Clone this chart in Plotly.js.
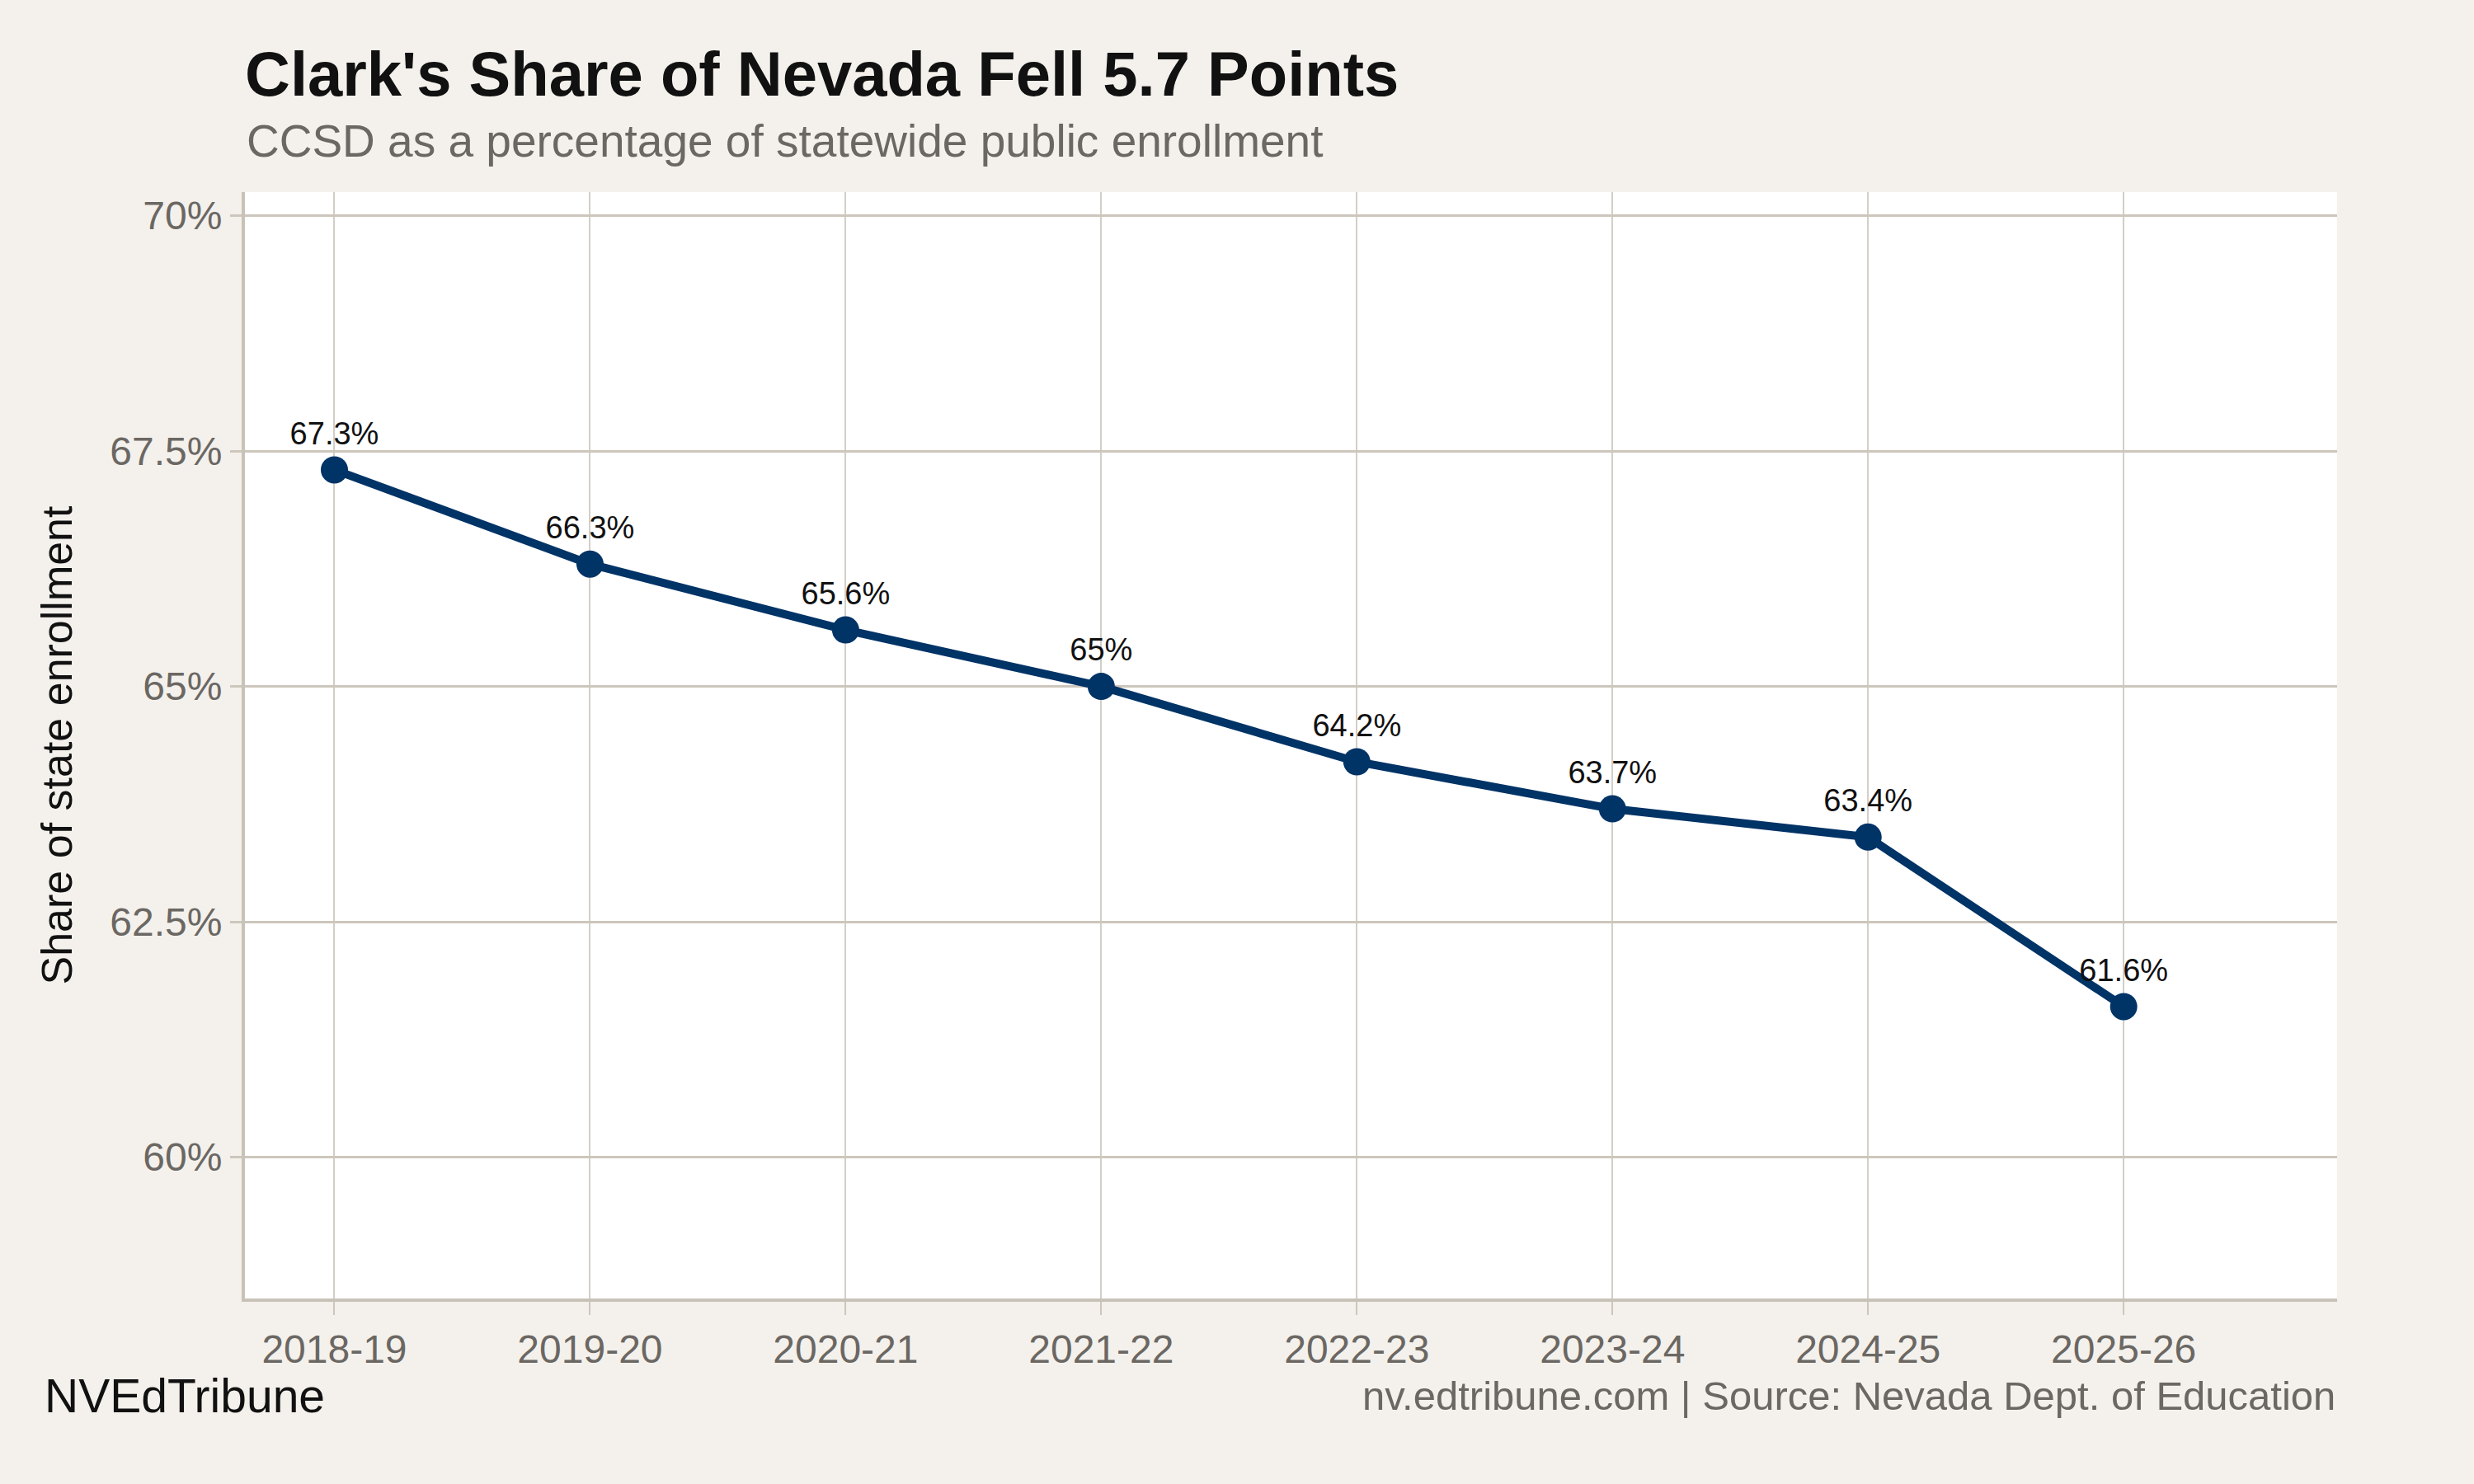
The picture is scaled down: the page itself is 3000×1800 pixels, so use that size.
<!DOCTYPE html>
<html>
<head>
<meta charset="utf-8">
<script src="https://cdn.plot.ly/plotly-3.0.1.min.js"></script>
<style>
  html, body { margin: 0; padding: 0; background: #f4f1ec; }
  #chart { width: 3000px; height: 1800px; }
</style>
</head>
<body>
<div id="chart"></div>
<script>
// school years and CCSD share of statewide enrollment (%)
var years = ['2018-19', '2019-20', '2020-21', '2021-22', '2022-23', '2023-24', '2024-25', '2025-26'];
var share = [67.3, 66.3, 65.6, 65.0, 64.2, 63.7, 63.4, 61.6];
var yTicks = [60, 62.5, 65, 67.5, 70];
var yTickText = ['60%', '62.5%', '65%', '67.5%', '70%'];

var labels = share.map(function (v) { return (Math.round(v * 10) / 10) + '%'; });

var font = 'Liberation Sans, Arial, Helvetica, sans-serif';
var gridColor = '#cdc6bc';

var trace1 = {
  type: 'scatter',
  x: years,
  y: share,
  mode: 'lines+markers+text',
  text: labels,
  textposition: 'top center',
  textfont: { family: font, size: 38, color: '#111111' },
  line: { color: '#003366', width: 10 },
  marker: { color: '#003366', size: 33 },
  hoverinfo: 'x+y',
  cliponaxis: false
};

var layout = {
  width: 3000,
  height: 1800,
  paper_bgcolor: '#f4f1ec',
  plot_bgcolor: '#ffffff',
  showlegend: false,
  margin: { l: 297, r: 166, t: 233, b: 225 },
  font: { family: font },
  title: {
    text: "<b>Clark's Share of Nevada Fell 5.7 Points</b>",
    font: { family: font, size: 76, color: '#111111' },
    xref: 'paper',
    x: 0,
    xanchor: 'left',
    yref: 'container',
    y: 1 - 89 / 1800,
    yanchor: 'middle'
  },
  xaxis: {
    type: 'category',
    range: [-0.35, 7.835],
    showgrid: true,
    gridcolor: '#d3cec7',
    gridwidth: 2,
    showline: true,
    linecolor: '#c9c2b8',
    linewidth: 4,
    ticks: 'outside',
    ticklen: 16,
    tickwidth: 2,
    tickcolor: gridColor,
    tickfont: { family: font, size: 48, color: '#6b6763' },
    zeroline: false,
    fixedrange: true
  },
  yaxis: {
    range: [58.5, 70.25],
    tickvals: yTicks,
    ticktext: yTickText,
    showgrid: true,
    gridcolor: gridColor,
    gridwidth: 3,
    showline: true,
    linecolor: '#c9c2b8',
    linewidth: 4,
    ticks: 'outside',
    ticklen: 14,
    tickwidth: 3,
    tickcolor: gridColor,
    tickfont: { family: font, size: 48, color: '#6b6763' },
    zeroline: false,
    title: {
      text: 'Share of state enrollment',
      font: { family: font, size: 52, color: '#111111' },
      standoff: 30
    },
    fixedrange: true
  },
  annotations: [
    {
      text: 'CCSD as a percentage of statewide public enrollment',
      xref: 'paper', yref: 'paper',
      x: 0, y: 1 + (233 - 171) / 1342,
      xanchor: 'left', yanchor: 'middle',
      showarrow: false,
      font: { family: font, size: 55, color: '#6b6763' }
    },
    {
      text: 'NVEdTribune',
      xref: 'paper', yref: 'paper',
      x: -245 / 2537, y: -(1693 - 1575) / 1342,
      xanchor: 'left', yanchor: 'middle',
      showarrow: false,
      font: { family: font, size: 57, color: '#111111' }
    },
    {
      text: 'nv.edtribune.com | Source: Nevada Dept. of Education',
      xref: 'paper', yref: 'paper',
      x: 1, y: -(1693 - 1575) / 1342,
      xanchor: 'right', yanchor: 'middle',
      showarrow: false,
      font: { family: font, size: 49, color: '#6b6763' }
    }
  ]
};

var data = [trace1];

Plotly.newPlot('chart', data, layout, { displayModeBar: false, responsive: false });
</script>
</body>
</html>
